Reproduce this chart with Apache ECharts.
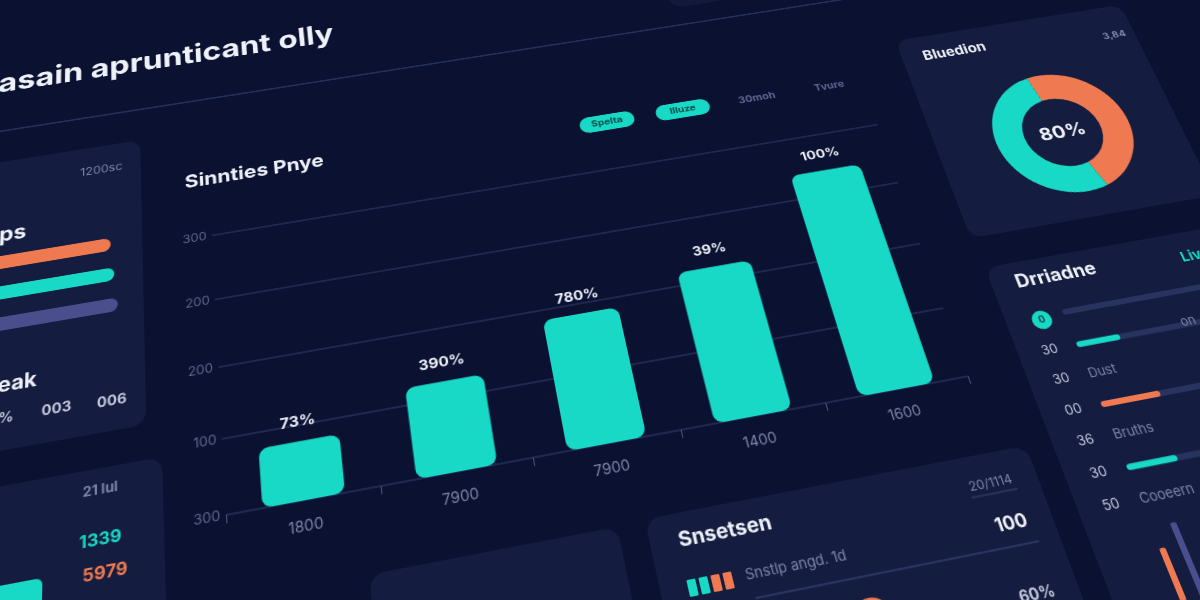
<!DOCTYPE html>
<html><head><meta charset="utf-8">
<script src="https://cdn.jsdelivr.net/npm/echarts@6/dist/echarts.min.js"></script>
<style>
html,body{margin:0;padding:0;width:1200px;height:600px;overflow:hidden;background:#0a1131;}
#wrap{position:absolute;left:-200px;top:-200px;width:1600px;height:1000px;transform-origin:800px 500px;transform:perspective(1100px) rotateX(25deg) rotateZ(-11deg);}
#chart{width:1600px;height:1000px;}
</style></head>
<body><div id="wrap"><div id="chart"></div></div>
<script>
// ---------- data ----------
const categories = ['1800', '7900', '7900', '1400', '1600'];
const values = [78, 124, 185, 220, 340];
const valueLabels = ['73%', '390%', '780%', '39%', '100%'];
const yTickLabels = ['300', '100', '200', '200', '300'];
const legendItems = ['Spelta', 'Illuze', '30moh', 'Tvure'];
const donutNames = ['A', 'B'];
const donutValues = [48, 52];
const donutCenterLabel = '80%';
const groupNames = ['A', 'B', 'C'];
const groupValues = [97, 98, 99];
const progressNames = ['30', '00', '30'];
const progressValues = [18, 24, 20];
const rowLabels = ['30', '30', '00', '36', '30', '50'];
const rowTexts = ['Dust', 'Bruths', 'Cooeern'];

// ---------- style ----------
const BG = '#0a1131', PANEL = '#141c3f', TEAL = '#17d9c5', ORANGE = '#ef7a51', PURPLE = '#4b4e8c';
const GRID = '#27315a', MUTED = '#7d86a8', WHITE = '#eef1f8', SOFT = '#c4c9de', TRACK = '#283360';
const FONT = 'Inter, "Open Sans", "DejaVu Sans", sans-serif';
const OX = 800, OY = 500; // plane origin inside the 1600x1000 canvas

const el = [];
function panel(x0, y0, x1, y1, r, fill) {
  el.push({ type: 'rect', z: 0, shape: { x: x0 + OX, y: y0 + OY, width: x1 - x0, height: y1 - y0, r: r == null ? 14 : r }, style: { fill: fill || PANEL } });
}
function txt(x, y, text, size, color, weight, align) {
  const a = align || 'left';
  el.push({ type: 'text', z: 20, x: x + OX, y: y + OY,
    style: { text: text, fill: color, fontSize: size, fontWeight: weight || 'normal', fontFamily: FONT,
      align: a, verticalAlign: 'middle', textAlign: a, textVerticalAlign: 'middle' } });
}
function line(x0, y0, x1, y1, color, w, cap) {
  el.push({ type: 'line', z: 1, shape: { x1: x0 + OX, y1: y0 + OY, x2: x1 + OX, y2: y1 + OY }, style: { stroke: color, lineWidth: w, lineCap: cap || 'butt' } });
}
function box(x0, y0, x1, y1, color, r) {
  el.push({ type: 'rect', z: 5, shape: { x: x0 + OX, y: y0 + OY, width: x1 - x0, height: y1 - y0, r: r || 0 }, style: { fill: color } });
}

// panels (plane coordinates)
panel(-900, -280, -448, 46);      // left card
panel(-900, 81, -434, 700);       // left bottom card
panel(150, -640, 365, -345, 14, '#111a3b'); // faint top card
panel(387, -252, 655, 4);         // donut card
panel(390, 39, 900, 700);         // right card
panel(-2, 225, 365, 700);         // bottom middle card
panel(-255, 227, -28, 700);       // bottom left-middle card

// header
txt(-600, -383, 'asain aprunticant olly', 35, WHITE, 'bold');
line(-800, -320, 370, -320, '#25305a', 2);
// main title
txt(-403, -217, 'Sinnties Pnye', 22, WHITE, 'bold');
// legend pills
const pillX = [48, 132, 215, 297];
legendItems.forEach(function (n, i) {
  if (i < 2) {
    el.push({ type: 'rect', z: 5, shape: { x: pillX[i] - 30 + OX, y: -207 - 10 + OY, width: 60, height: 20, r: 10 }, style: { fill: TEAL } });
    txt(pillX[i], -207, n, 11, '#0d4a48', 'bold', 'center');
  } else {
    txt(pillX[i], -207, n, 12, '#5d6690', 'bold', 'center');
  }
});

// left card
txt(-511, -250, '1200sc', 13, MUTED);
txt(-565, -189, 'Groups', 23, WHITE, 'bold', 'right');
txt(-551, -20, 'Peak', 21, WHITE, 'bold', 'right');
txt(-572, 14, '30%', 14, SOFT, 'bold', 'right');
txt(-532, 14, '003', 14, SOFT, 'bold', 'center');
txt(-480, 16, '006', 14, SOFT, 'bold', 'center');
// left bottom card
txt(-491, 102, '21 lul', 13, MUTED, 'bold', 'center');
txt(-491, 149, '1339', 16, TEAL, 'bold', 'center');
txt(-487, 180, '5979', 16, ORANGE, 'bold', 'center');
box(-800, 174, -542, 260, TEAL, 6);

// donut card
txt(411, -225, 'Bluedion', 17, WHITE, 'bold');
txt(645, -213, '3,84', 12, MUTED, 'bold', 'right');
txt(527, -101, donutCenterLabel, 22, WHITE, 'bold', 'center');

// right card
txt(415, 61, 'Drriadne', 20, WHITE, 'bold');
txt(590, 66, 'Live', 15, TEAL, 'bold');
el.push({ type: 'circle', z: 5, shape: { cx: 426 + OX, cy: 105 + OY, r: 10 }, style: { fill: TEAL } });
txt(426, 105, '0', 10, '#0d4a48', 'bold', 'center');
line(452, 101, 800, 101, TRACK, 6, 'round');
const rowY = [137, 168, 200, 231, 263, 294];
rowLabels.forEach(function (t, i) { txt(422, rowY[i], t, 13, SOFT, 'normal', 'center'); });
rowTexts.forEach(function (t, i) { txt(450, rowY[2 * i + 1], t, 13, MUTED); });
txt(560, 134, 'on', 13, MUTED);
box(449, 340, 455, 388, ORANGE, 2);
box(468, 320, 474, 395, PURPLE, 2);

// bottom middle card
txt(24, 250, 'Snsetsen', 19, WHITE, 'bold');
txt(341, 293, '100', 17, WHITE, 'bold', 'right');
txt(320, 253, '20/1114', 12, MUTED, 'normal', 'center');
line(298, 263, 343, 263, '#3a4470', 1);
line(80, 313, 345, 313, TRACK, 2);
txt(76, 292, 'Snstlp angd. 1d', 13, MUTED);
box(23, 286, 31, 301, TEAL, 1); box(34, 286, 42, 301, TEAL, 1);
box(45, 286, 53, 301, ORANGE, 1); box(56, 286, 64, 301, ORANGE, 1);
txt(310, 358, '60%', 14, SOFT, 'bold');
el.push({ type: 'circle', z: 5, shape: { cx: 178 + OX, cy: 350 + OY, r: 18 }, style: { fill: ORANGE } });

const option = {
  backgroundColor: BG,
  animation: false,
  grid: [
    { left: 422, top: 352, width: 712, height: 296 },
    { left: 0, top: 325, width: 330, height: 105 },
    { left: 1250, top: 605, width: 250, height: 190 }
  ],
  xAxis: [
    { type: 'category', gridIndex: 0, data: categories, boundaryGap: true,
      axisLine: { show: false },
      axisTick: { show: true, length: 8, lineStyle: { color: '#4a5378' } },
      axisLabel: { color: MUTED, fontSize: 14, margin: 18, fontFamily: FONT } },
    { type: 'value', gridIndex: 1, min: 0, max: 100, show: false },
    { type: 'value', gridIndex: 2, min: 0, max: 100, show: false }
  ],
  yAxis: [
    { type: 'value', gridIndex: 0, min: 0, max: 400, interval: 100,
      axisLine: { show: false }, axisTick: { show: false },
      splitLine: { lineStyle: { color: GRID, width: 1.5 } },
      axisLabel: { color: '#5f6890', fontSize: 13, margin: 5, fontFamily: FONT,
        formatter: function (v) { return yTickLabels[Math.round(v / 100)]; } } },
    { type: 'category', gridIndex: 1, data: groupNames, inverse: true, show: false },
    { type: 'category', gridIndex: 2, data: progressNames, inverse: true, show: false }
  ],
  series: [
    { type: 'bar', xAxisIndex: 0, yAxisIndex: 0, data: values, barWidth: 76, z: 3,
      itemStyle: { color: TEAL, borderRadius: 9 },
      label: { show: true, position: 'top', distance: 12, color: WHITE, fontWeight: 'bold', fontSize: 15, fontFamily: FONT,
        formatter: function (p) { return valueLabels[p.dataIndex]; } } },
    { type: 'bar', xAxisIndex: 1, yAxisIndex: 1, barWidth: 15,
      data: groupValues.map(function (v, i) { return { value: v, itemStyle: { color: [ORANGE, TEAL, PURPLE][i], borderRadius: 8 } }; }) },
    { type: 'bar', xAxisIndex: 2, yAxisIndex: 2, barWidth: 6,
      showBackground: true, backgroundStyle: { color: TRACK, borderRadius: 3 },
      data: progressValues.map(function (v, i) { return { value: v, itemStyle: { color: [TEAL, ORANGE, TEAL][i], borderRadius: 3 } }; }) },
    { type: 'pie', center: [527 + OX, -101 + OY], radius: [43, 75], startAngle: 100, clockwise: true,
      label: { show: false }, labelLine: { show: false }, silent: true,
      data: donutNames.map(function (n, i) { return { name: n, value: donutValues[i], itemStyle: { color: [ORANGE, TEAL][i] } }; }) }
  ],
  graphic: { elements: el }
};
const chart = echarts.init(document.getElementById('chart'), null, { renderer: 'canvas' });
chart.setOption(option);
</script>
</body></html>
